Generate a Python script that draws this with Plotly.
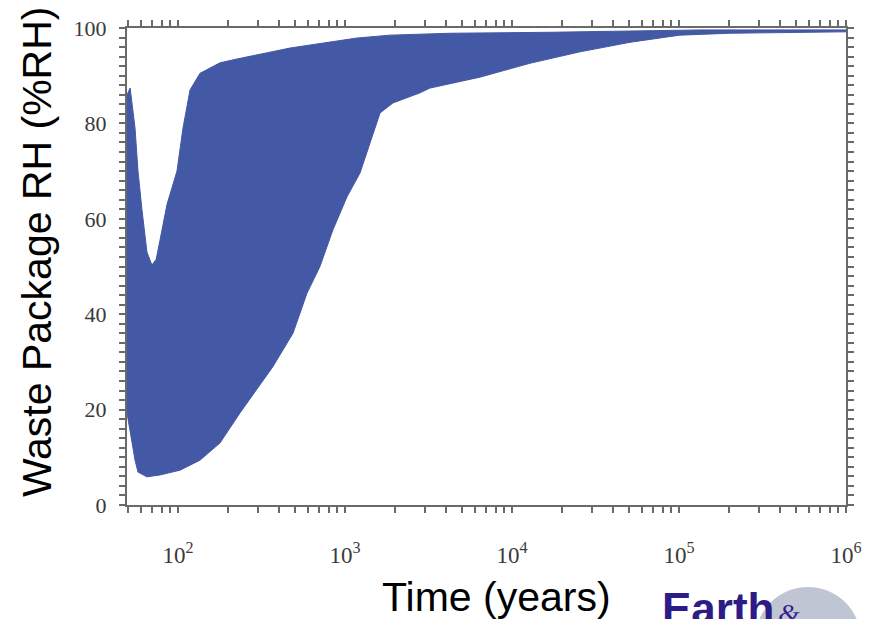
import numpy as np
import plotly.graph_objects as go

# Upper envelope of waste-package relative humidity (years, %RH)
upper_years = [49.5, 51.7, 55.3, 57.6, 60.8, 65.2, 69.8, 74.0, 78.0, 85.9, 98.6,
               107.1, 118.0, 135.4, 178.4, 225.4, 469.0, 1180.0, 1860.0, 4250.0,
               16900.0, 67000.0, 133600.0, 1.0e6]
upper_rh = [86.0, 87.4, 79.0, 70.0, 62.0, 53.0, 50.3, 51.5, 55.5, 63.0, 70.0,
            79.0, 87.0, 90.5, 92.7, 93.5, 95.8, 97.9, 98.5, 98.9,
            99.1, 99.5, 99.6, 99.6]

# Lower envelope of waste-package relative humidity (years, %RH)
lower_years = [49.5, 55.3, 57.6, 65.2, 78.0, 102.8, 135.4, 178.4, 235.0, 370.0,
               488.0, 592.0, 708.0, 847.0, 1028.0, 1230.0, 1412.0, 1622.0, 1938.0,
               2812.0, 3226.0, 6430.0, 12800.0, 25500.0, 50900.0, 101000.0,
               202000.0, 1.0e6]
lower_rh = [19.3, 9.4, 6.9, 5.9, 6.3, 7.3, 9.4, 13.0, 19.3, 29.0,
            36.0, 44.4, 50.0, 57.7, 64.6, 69.6, 75.9, 82.2, 84.3,
            86.4, 87.4, 89.7, 92.6, 95.0, 97.0, 98.5,
            98.9, 99.2]

x_major = [1e2, 1e3, 1e4, 1e5, 1e6]
x_major_text = ["10<sup>2</sup>", "10<sup>3</sup>", "10<sup>4</sup>",
                "10<sup>5</sup>", "10<sup>6</sup>"]
y_major = [0, 20, 40, 60, 80, 100]

band_color = "#4459A5"
axis_color = "#6a6a6a"
tick_font = dict(family="Liberation Serif, Times New Roman, serif", size=22, color="#3a3a3a")

# Tick positions: labelled decades plus unlabelled 2..9 x 10^n on the time axis,
# labelled multiples of 20 plus unlabelled steps of 2 on the humidity axis
x_minor = [float(m * 10 ** e) for e in range(1, 6) for m in range(2, 10)]
x_minor = [v for v in x_minor if 49.5 <= v <= 1e6]
x_ticks = sorted(x_major + x_minor)
x_ticktext = [x_major_text[x_major.index(v)] if v in x_major else "" for v in x_ticks]

y_ticks = list(range(0, 101, 2))
y_ticktext = [str(v) if v in y_major else "" for v in y_ticks]

band_x = upper_years + lower_years[::-1]
band_y = upper_rh + lower_rh[::-1]

fig = go.Figure()
fig.add_trace(go.Scatter(
    x=band_x, y=band_y, mode="lines", fill="toself",
    fillcolor=band_color, line=dict(color=band_color, width=1),
    hoverinfo="skip", showlegend=False,
))

fig.update_layout(
    xaxis=dict(
        type="log", range=[np.log10(49.5), 6],
        tickmode="array", tickvals=x_ticks, ticktext=x_ticktext,
        ticks="outside", ticklen=6, tickwidth=1.5, tickcolor=axis_color,
        showline=True, linecolor=axis_color, linewidth=2, mirror="allticks",
        showgrid=False, zeroline=False,
        tickfont=dict(tick_font, size=23), ticklabelstandoff=22,
    ),
    yaxis=dict(
        range=[0, 100],
        tickmode="array", tickvals=y_ticks, ticktext=y_ticktext,
        ticks="outside", ticklen=6, tickwidth=1.5, tickcolor=axis_color,
        showline=True, linecolor=axis_color, linewidth=2, mirror="allticks",
        showgrid=False, zeroline=False,
        tickfont=tick_font, ticklabelstandoff=8,
    ),
)

title_font = dict(family="Liberation Sans, Arial, sans-serif", size=41, color="#000000")

fig.add_annotation(
    text="Waste Package RH (%RH)", textangle=-90, font=title_font,
    xref="paper", yref="paper", x=-0.126, y=0.531,
    xanchor="center", yanchor="middle", showarrow=False,
)
fig.add_annotation(
    text="Time (years)", font=title_font,
    xref="paper", yref="paper", x=0.514, y=-0.192,
    xanchor="center", yanchor="middle", showarrow=False,
)

# Logo in the lower right corner: globe with lettering
fig.add_shape(
    type="circle", xref="paper", yref="paper",
    x0=(755 - 127) / 719, x1=(861 - 127) / 719,
    y0=(505 - 693) / 477, y1=(505 - 587) / 477,
    fillcolor="#bfc5d3", line=dict(width=0), layer="below",
)
fig.add_annotation(
    text="<b>Earth</b>",
    font=dict(family="Liberation Sans Narrow, Liberation Sans, Arial, sans-serif",
              size=44, color="#2d1c86"),
    xref="paper", yref="paper", x=(660 - 127) / 719, y=(505 - 582) / 477,
    xanchor="left", yanchor="top", showarrow=False,
)
fig.add_annotation(
    text="<i>&</i>",
    font=dict(family="Liberation Serif, serif", size=28, color="#3a1f8f"),
    xref="paper", yref="paper", x=(776 - 127) / 719, y=(505 - 596) / 477,
    xanchor="left", yanchor="top", showarrow=False,
)

fig.update_layout(
    width=875, height=619,
    margin=dict(l=127, r=29, t=28, b=114),
    plot_bgcolor="white", paper_bgcolor="white",
    showlegend=False,
)

fig.write_html("out.html")
